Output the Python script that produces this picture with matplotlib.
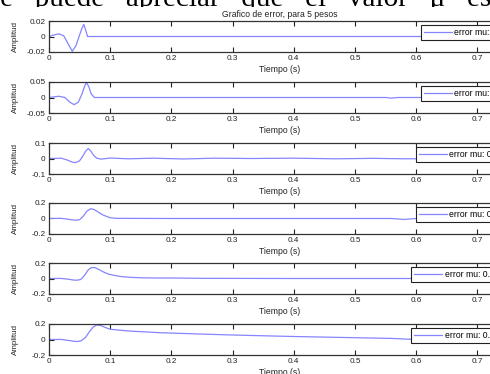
import matplotlib
matplotlib.use("Agg")
import matplotlib.pyplot as plt
from matplotlib.patches import Rectangle

plt.rcParams['font.family'] = ['Liberation Sans', 'DejaVu Sans']
plt.rcParams['axes.unicode_minus'] = False

# error curves for each step size, time in seconds
t_end = 0.755

t1 = [0, 0.008, 0.016, 0.024, 0.031, 0.038, 0.044, 0.050, 0.054, 0.057, 0.060, 0.063, t_end]
e1 = [0, 0.002, 0.0034, 0.001, -0.009, -0.019, -0.012, 0.002, 0.011, 0.0155, 0.008, 0, 0]

t2 = [0, 0.008, 0.016, 0.026, 0.034, 0.041, 0.048, 0.054, 0.058, 0.061, 0.065, 0.069, 0.074,
      0.55, 0.56, 0.57, t_end]
e2 = [0, 0.002, 0.004, 0.0, -0.015, -0.023, -0.015, 0.012, 0.035, 0.049, 0.035, 0.012, 0,
      0, -0.002, 0, 0]

t3 = [0, 0.01, 0.02, 0.03, 0.037, 0.043, 0.05, 0.056, 0.06, 0.064, 0.068, 0.073, 0.078, 0.085,
      0.1, 0.13, 0.17, 0.22, 0.27, 0.33, 0.4, 0.47, 0.53, 0.58, t_end]
e3 = [0, 0.001, 0.002, -0.01, -0.022, -0.027, -0.015, 0.02, 0.048, 0.064, 0.05, 0.02, 0.002, -0.004,
      0.003, -0.002, 0.002, -0.003, 0.002, 0, 0.002, -0.002, 0.001, -0.002, 0]

t4 = [0, 0.02, 0.03, 0.038, 0.044, 0.05, 0.056, 0.062, 0.068, 0.074, 0.08, 0.087, 0.093, 0.1,
      0.11, 0.2, 0.3, 0.4, 0.5, 0.56, 0.58, 0.6, t_end]
e4 = [0, 0.002, -0.008, -0.018, -0.022, -0.015, 0.03, 0.095, 0.126, 0.115, 0.085, 0.05, 0.03, 0.01,
      0.002, 0, 0, 0, 0, 0, -0.012, 0, 0]

t5 = [0, 0.02, 0.032, 0.04, 0.046, 0.052, 0.058, 0.064, 0.069, 0.075, 0.082, 0.09, 0.098, 0.11,
      0.12, 0.135, 0.153, 0.18, 0.21, 0.25, 0.4, 0.55, 0.6, t_end]
e5 = [0, 0.001, -0.01, -0.02, -0.022, -0.012, 0.04, 0.11, 0.14, 0.141, 0.115, 0.08, 0.055, 0.035,
      0.023, 0.014, 0.009, 0.006, 0.006, 0.002, 0, 0, 0, 0]

t6 = [0, 0.02, 0.03, 0.04, 0.047, 0.053, 0.06, 0.066, 0.072, 0.078, 0.085, 0.092, 0.1, 0.13,
      0.18, 0.25, 0.3, 0.35, 0.41, 0.47, 0.52, 0.56, 0.59, t_end]
e6 = [0, 0.001, -0.01, -0.022, -0.026, -0.015, 0.03, 0.1, 0.16, 0.188, 0.18, 0.155, 0.132, 0.11,
      0.088, 0.07, 0.058, 0.048, 0.037, 0.028, 0.02, 0.014, 0.003, 0]

times = [t1, t2, t3, t4, t5, t6]
errors = [e1, e2, e3, e4, e5, e6]
y_limits = [0.02, 0.05, 0.1, 0.2, 0.2, 0.2]
y_ticklabels = [["-0.02", "0", "0.02"], ["-0.05", "0", "0.05"], ["-0.1", "0", "0.1"],
                ["-0.2", "0", "0.2"], ["-0.2", "0", "0.2"], ["-0.2", "0", "0.2"]]
mu_labels = ["error mu: 0.5", "error mu: 0.1", "error mu: 0.05",
             "error mu: 0.01", "error mu: 0.005", "error mu: 0.001"]
x_ticks = [0, 0.1, 0.2, 0.3, 0.4, 0.5, 0.6, 0.7]
x_ticklabels = ["0", "0.1", "0.2", "0.3", "0.4", "0.5", "0.6", "0.7"]

W, H = 490, 374
fig = plt.figure(figsize=(W / 100, H / 100), dpi=100)

# line of running text above the figure, partly hidden behind it
fig.text(-15.5 / W, 1 - 6 / H, "Se   puede   apreciar   que   el   valor   \u03bc   es   directamente",
         family='Liberation Serif', fontsize=21, va='baseline', ha='left', zorder=-2)
fig.patches.append(Rectangle((0, 0), 1, 1 - 7.3 / H, transform=fig.transFigure,
                             facecolor='white', edgecolor='none', zorder=-1))

left_px, right_px = 49, 511
tops_px = [21, 82, 143, 203, 263, 324]
h_px = 31
line_color = '#8585ff'

for i in range(6):
    top = tops_px[i]
    ax = fig.add_axes([left_px / W, 1 - (top + h_px) / H, (right_px - left_px) / W, h_px / H])
    ax.plot(times[i], errors[i], color=line_color, lw=0.9, label=mu_labels[i])
    lim = y_limits[i]
    ax.set_xlim(0, t_end)
    ax.set_ylim(-lim, lim)
    ax.set_yticks([-lim, 0, lim])
    ax.set_yticklabels(y_ticklabels[i])
    ax.set_xticks(x_ticks)
    ax.set_xticklabels(x_ticklabels)
    ax.tick_params(direction='in', top=True, right=True, length=3.5, width=0.8,
                   labelsize=5.9, pad=2.5, color='#222222', labelcolor='#222222')
    for s in ax.spines.values():
        s.set_linewidth(0.9)
        s.set_color('#333333')
    ax.set_xlabel("Tiempo (s)", fontsize=6.2, labelpad=1.5, color='#222222')
    ax.set_ylabel("Amplitud", fontsize=5.8, color='#222222')
    ax.yaxis.set_label_coords((19 - left_px) / (right_px - left_px), 0.5)
    if i == 0:
        ax.set_title("Grafico de error, para 5 pesos", fontsize=6.2, pad=3, color='#222222')
    leg = ax.legend(loc='upper right', fontsize=6.2, handlelength=3.2, handletextpad=0.3,
                    borderpad=0.35, borderaxespad=0.45, fancybox=False, framealpha=1,
                    edgecolor='#222222')
    leg.get_frame().set_linewidth(0.8)

fig.savefig("out.png", dpi=100)
